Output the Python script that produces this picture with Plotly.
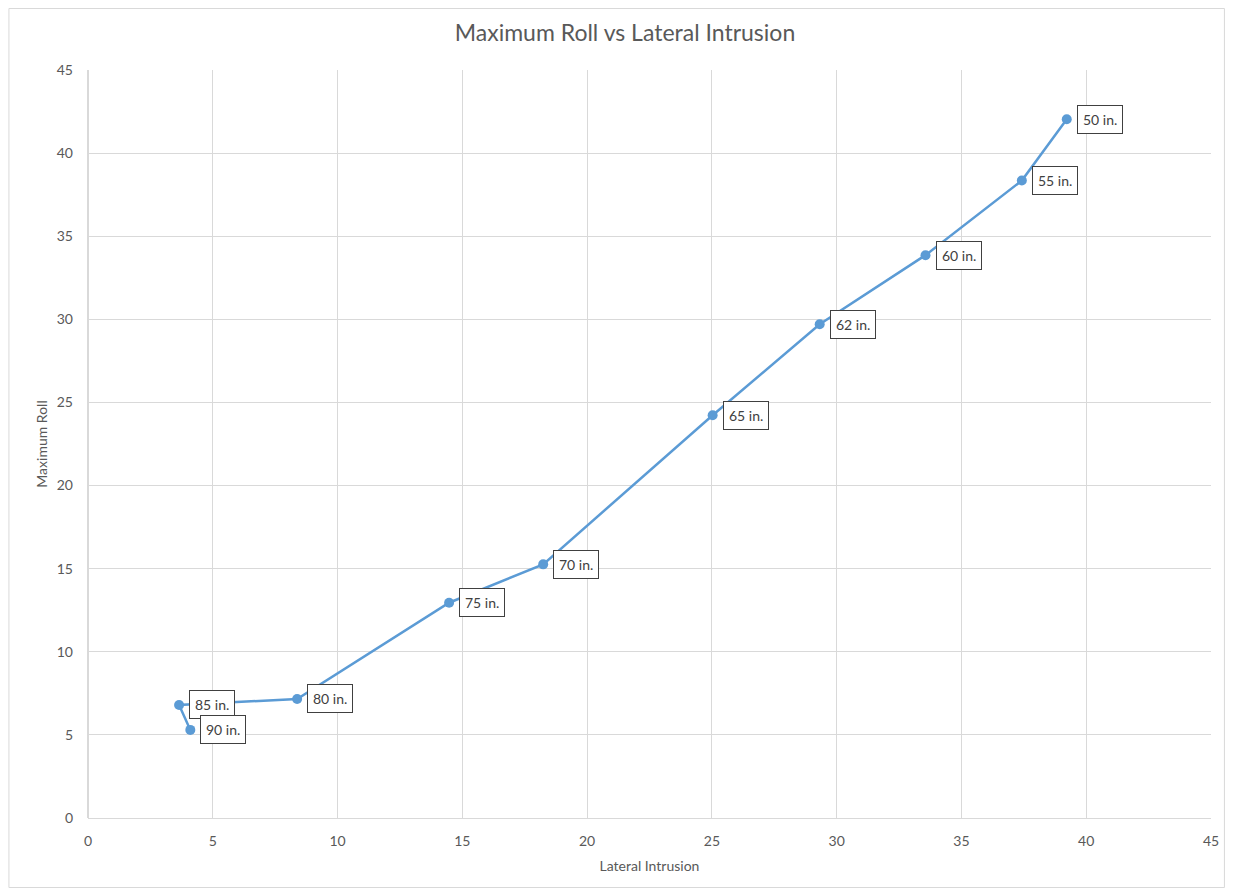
import plotly.graph_objects as go

lateral_intrusion = [39.22, 37.42, 33.56, 29.32, 25.03, 18.24, 14.47, 8.38, 3.65, 4.1]
maximum_roll = [42.04, 38.35, 33.86, 29.7, 24.23, 15.26, 12.95, 7.16, 6.8, 5.3]
point_labels = ["50 in.", "55 in.", "60 in.", "62 in.", "65 in.", "70 in.", "75 in.", "80 in.", "85 in.", "90 in."]

FONT = "Lato, 'Open Sans', sans-serif"
TXT = "#595959"
GRID = "#d9d9d9"

fig = go.Figure()
fig.add_trace(go.Scatter(
    x=lateral_intrusion, y=maximum_roll, mode="lines+markers",
    line=dict(color="#5b9bd5", width=2.5),
    marker=dict(color="#5b9bd5", size=10),
    showlegend=False, hoverinfo="x+y",
))

for x, y, t in zip(lateral_intrusion, maximum_roll, point_labels):
    fig.add_annotation(
        x=x, y=y, text=t, showarrow=False, xanchor="left", yanchor="middle",
        xshift=10, yshift=0, bordercolor="#404040", borderwidth=1, borderpad=5,
        bgcolor="white", font=dict(family=FONT, size=14, color="#404040"),
    )

# page body has an 8px margin: work in figure pixels = reference pixels - 8
OFF = 8
W, H = 1223, 880
L = 88 - OFF
T = 70 - OFF
R = W - (1217 - OFF)
B = H - (818 - OFF)
pw, ph = W - L - R, H - T - B
def px(xp): return (xp - L) / pw
def py(yp): return (H - B - yp) / ph
fig.add_shape(type="rect", xref="paper", yref="paper",
              x0=px(0.5), x1=px(W - 0.5), y0=py(H - 0.5), y1=py(0.5),
              line=dict(color="#d9d9d9", width=1), layer="below")

fig.update_layout(
    width=W, height=H,
    margin=dict(l=L, r=R, t=T, b=B),
    paper_bgcolor="white", plot_bgcolor="white",
    font=dict(family=FONT, color=TXT),
    title=dict(text="Maximum Roll vs Lateral Intrusion", x=(625 - OFF) / W, xref="container",
               xanchor="center", y=1 - (33 - OFF) / H, yanchor="middle",
               font=dict(family=FONT, size=23, color=TXT)),
    xaxis=dict(range=[0, 45], tick0=0, dtick=5, showgrid=True, gridcolor=GRID,
               zeroline=True, zerolinecolor=GRID, showline=True, linecolor=GRID,
               mirror=False, ticks="", tickfont=dict(size=14, color=TXT),
               ticklabelstandoff=10,
               title=dict(text="Lateral Intrusion", font=dict(size=14, color=TXT), standoff=13)),
    yaxis=dict(range=[0, 45], tick0=0, dtick=5, showgrid=True, gridcolor=GRID,
               zeroline=True, zerolinecolor=GRID, showline=False,
               ticks="", tickfont=dict(size=14, color=TXT), ticklabelstandoff=14,
               title=dict(text="Maximum Roll", font=dict(size=14, color=TXT), standoff=5)),
)

fig.write_html("out.html")
